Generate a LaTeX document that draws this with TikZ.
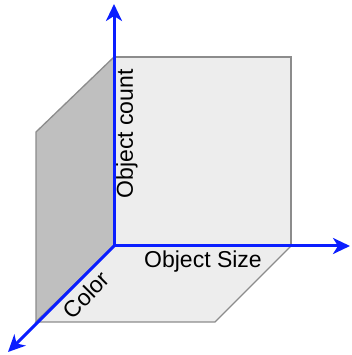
\documentclass[tikz,border=0pt]{standalone}
\usepackage{fontspec}
\setmainfont{Liberation Sans}
\usetikzlibrary{arrows.meta}
\definecolor{axisblue}{HTML}{0A1EFF}
\definecolor{planeedge}{HTML}{8C8C8C}
\definecolor{lightplane}{HTML}{EDEDED}
\definecolor{darkplane}{HTML}{BFBFBF}
\tikzset{
  plane/.style={draw=planeedge, line width=1.3pt, line join=miter},
  axis/.style={draw=axisblue, line width=3pt, -{Stealth[length=17pt,width=16pt,inset=5pt]}},
  lbl/.style={font=\fontsize{23}{27}\selectfont, inner sep=0pt}
}
\begin{document}
\begin{tikzpicture}[x=1pt,y=1pt]
\useasboundingbox (0,0) rectangle (351,355);
% planes
\filldraw[plane, fill=lightplane] (114,109) -- (291,109) -- (291,298) -- (114,298) -- cycle;
\filldraw[plane, fill=darkplane] (114,298) -- (36,223) -- (36,33) -- (114,109) -- cycle;
\filldraw[plane, fill=lightplane] (114,109) -- (291,109) -- (215,33) -- (36,33) -- cycle;
% axes
\coordinate (O) at (114,109);
\coordinate (ytip) at (114,351);
\coordinate (xtip) at (350,109);
\coordinate (ztip) at (8,3);
\draw[axis] (O) -- (ytip);
\draw[axis] (O) -- (xtip);
\draw[axis] (O) -- (ztip);
% labels
\node[lbl, rotate=90] (cnt) at (127,221) {Object count};
\node[lbl] (size) at (203,93) {Object Size};
\node[lbl, rotate=45] (col) at (86,60) {Color};
\end{tikzpicture}
\end{document}
